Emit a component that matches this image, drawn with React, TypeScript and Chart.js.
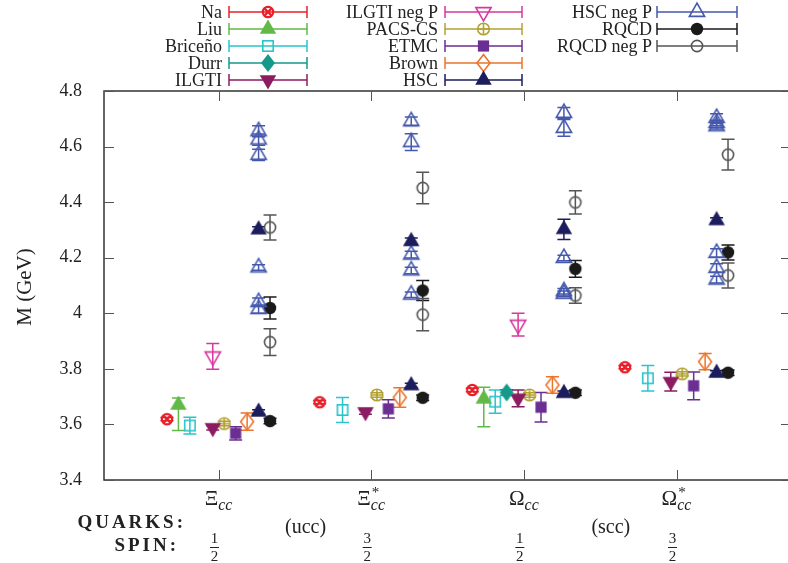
import React, { useEffect, useRef } from "react";
import { Chart, registerables } from "chart.js";

Chart.register(...registerables);

// ---------- data ----------
const categoryBase = ["Ξ", "Ξ", "Ω", "Ω"];
const categorySup = ["", "*", "", "*"];
const categorySub = ["cc", "cc", "cc", "cc"];
const categoryX = [1, 2, 3, 4];
const quarkLabels = ["(ucc)", "(scc)"];
const quarkX = [1.57, 3.57];
const spinNum = ["1", "3", "1", "3"];
const spinDen = ["2", "2", "2", "2"];
const yTicks = [3.4, 3.6, 3.8, 4, 4.2, 4.4, 4.6, 4.8];

// [category, mass (GeV), +err, -err]
const naData = [[1, 3.619, 0.006, 0.006], [2, 3.68, 0.006, 0.006], [3, 3.724, 0.006, 0.006], [4, 3.806, 0.006, 0.006]];
const liuData = [[1, 3.67, 0.025, 0.092], [3, 3.692, 0.042, 0.1]];
const bricenoData = [[1, 3.596, 0.03, 0.03], [2, 3.652, 0.045, 0.045], [3, 3.682, 0.042, 0.042], [4, 3.766, 0.046, 0.046]];
const durrData = [[3, 3.715, 0.01, 0.01]];
const ilgtiData = [[1, 3.588, 0.008, 0.008], [2, 3.645, 0.008, 0.008], [3, 3.694, 0.03, 0.03], [4, 3.754, 0.034, 0.034]];
const ilgtiNegPData = [[1, 3.845, 0.046, 0.046], [3, 3.959, 0.041, 0.041]];
const pacsData = [[1, 3.603, 0.008, 0.008], [2, 3.706, 0.008, 0.008], [3, 3.706, 0.008, 0.008], [4, 3.782, 0.008, 0.008]];
const etmcData = [[1, 3.568, 0.024, 0.024], [2, 3.656, 0.033, 0.033], [3, 3.662, 0.053, 0.053], [4, 3.739, 0.05, 0.05]];
const brownData = [[1, 3.61, 0.031, 0.031], [2, 3.697, 0.035, 0.035], [3, 3.742, 0.03, 0.03], [4, 3.826, 0.029, 0.029]];
const hscData = [[1, 3.645, 0.008, 0.008], [1, 4.301, 0.01, 0.01], [2, 3.74, 0.008, 0.008], [2, 4.259, 0.012, 0.012], [3, 3.712, 0.008, 0.008], [3, 4.302, 0.036, 0.036], [4, 3.785, 0.008, 0.008], [4, 4.334, 0.01, 0.01]];
const hscNegPData = [
  [1, 4.655, 0.02, 0.02], [1, 4.625, 0.02, 0.02], [1, 4.57, 0.02, 0.02], [1, 4.165, 0.01, 0.01], [1, 4.04, 0.015, 0.015], [1, 4.015, 0.015, 0.015],
  [2, 4.691, 0.015, 0.015], [2, 4.616, 0.03, 0.03], [2, 4.211, 0.012, 0.012], [2, 4.154, 0.012, 0.012], [2, 4.067, 0.01, 0.01],
  [3, 4.721, 0.02, 0.02], [3, 4.667, 0.03, 0.03], [3, 4.199, 0.01, 0.01], [3, 4.079, 0.01, 0.01], [3, 4.07, 0.01, 0.01],
  [4, 4.703, 0.015, 0.015], [4, 4.685, 0.01, 0.01], [4, 4.673, 0.01, 0.01], [4, 4.217, 0.015, 0.015], [4, 4.163, 0.015, 0.015], [4, 4.121, 0.012, 0.012],
];
const rqcdData = [[1, 3.612, 0.01, 0.01], [1, 4.019, 0.04, 0.04], [2, 3.696, 0.01, 0.01], [2, 4.082, 0.036, 0.036], [3, 3.714, 0.01, 0.01], [3, 4.16, 0.03, 0.03], [4, 3.786, 0.01, 0.01], [4, 4.219, 0.027, 0.027]];
const rqcdNegPData = [[1, 4.309, 0.045, 0.045], [1, 3.896, 0.048, 0.048], [2, 4.451, 0.057, 0.057], [2, 3.995, 0.058, 0.058], [3, 4.399, 0.042, 0.042], [3, 4.064, 0.028, 0.028], [4, 4.571, 0.055, 0.055], [4, 4.136, 0.045, 0.045]];

type Series = { label: string; color: string; marker: string; offset: number; data: number[][] };

const series: Series[] = [
  { label: "Na", color: "#e8202a", marker: "circleX", offset: -0.3375, data: naData },
  { label: "Liu", color: "#62b946", marker: "triUpFill", offset: -0.2625, data: liuData },
  { label: "Briceño", color: "#29c4cc", marker: "squareOpen", offset: -0.1875, data: bricenoData },
  { label: "Durr", color: "#14998a", marker: "diamondFill", offset: -0.1125, data: durrData },
  { label: "ILGTI", color: "#8b1c62", marker: "triDownFill", offset: -0.0375, data: ilgtiData },
  { label: "ILGTI neg P", color: "#d6389f", marker: "triDownOpen", offset: -0.0375, data: ilgtiNegPData },
  { label: "PACS-CS", color: "#b3a233", marker: "circlePlus", offset: 0.0375, data: pacsData },
  { label: "ETMC", color: "#6b2f93", marker: "squareFill", offset: 0.1125, data: etmcData },
  { label: "Brown", color: "#ec742b", marker: "diamondOpen", offset: 0.1875, data: brownData },
  { label: "HSC", color: "#1b1d5c", marker: "triUpFill", offset: 0.2625, data: hscData },
  { label: "HSC neg P", color: "#4458ad", marker: "triUpOpen", offset: 0.2625, data: hscNegPData },
  { label: "RQCD", color: "#1a1a1a", marker: "circleFill", offset: 0.3375, data: rqcdData },
  { label: "RQCD neg P", color: "#555555", marker: "circleOpen", offset: 0.3375, data: rqcdNegPData },
];

// legend layout (columns of series indices)
const legendColumns = [[0, 1, 2, 3, 4], [5, 6, 7, 8, 9], [10, 11, 12]];
const legendLabelRight = [222, 438, 652];
const legendLineLeft = [229, 445, 657];
const legendLineRight = [307, 522, 737];
const legendRowY = [12, 29, 46, 63, 80];

const SERIF = "'Liberation Serif', 'Times New Roman', serif";

function drawMarker(ctx: CanvasRenderingContext2D, kind: string, x: number, y: number, color: string) {
  ctx.save();
  ctx.strokeStyle = color;
  ctx.fillStyle = color;
  ctx.lineWidth = 1.6;
  ctx.lineJoin = "miter";
  const tri = (R: number, down: boolean) => {
    const s = down ? -1 : 1;
    ctx.beginPath();
    ctx.moveTo(x, y - s * R);
    ctx.lineTo(x - R * 0.866, y + (s * R) / 2);
    ctx.lineTo(x + R * 0.866, y + (s * R) / 2);
    ctx.closePath();
  };
  const diamond = (hw: number, hh: number) => {
    ctx.beginPath();
    ctx.moveTo(x, y - hh);
    ctx.lineTo(x + hw, y);
    ctx.lineTo(x, y + hh);
    ctx.lineTo(x - hw, y);
    ctx.closePath();
  };
  switch (kind) {
    case "circleX": {
      const r = 5.2;
      ctx.lineWidth = 2.2;
      ctx.beginPath();
      ctx.arc(x, y, r, 0, Math.PI * 2);
      ctx.stroke();
      const d = r * 0.7;
      ctx.beginPath();
      ctx.moveTo(x - d, y - d);
      ctx.lineTo(x + d, y + d);
      ctx.moveTo(x + d, y - d);
      ctx.lineTo(x - d, y + d);
      ctx.stroke();
      break;
    }
    case "circlePlus": {
      const r = 5.8;
      ctx.lineWidth = 1.6;
      ctx.beginPath();
      ctx.arc(x, y, r, 0, Math.PI * 2);
      ctx.stroke();
      ctx.beginPath();
      ctx.moveTo(x - r, y);
      ctx.lineTo(x + r, y);
      ctx.moveTo(x, y - r);
      ctx.lineTo(x, y + r);
      ctx.stroke();
      break;
    }
    case "triUpFill":
      tri(9.5, false);
      ctx.fill();
      break;
    case "triUpOpen":
      tri(8.8, false);
      ctx.stroke();
      break;
    case "triDownFill":
      tri(9.5, true);
      ctx.fill();
      break;
    case "triDownOpen":
      tri(8.8, true);
      ctx.stroke();
      break;
    case "squareOpen":
      ctx.strokeRect(x - 5.2, y - 5.2, 10.4, 10.4);
      break;
    case "squareFill":
      ctx.fillRect(x - 5.6, y - 5.6, 11.2, 11.2);
      break;
    case "diamondFill":
      diamond(7, 9);
      ctx.fill();
      break;
    case "diamondOpen":
      diamond(6.5, 8.5);
      ctx.stroke();
      break;
    case "circleFill":
      ctx.beginPath();
      ctx.arc(x, y, 6.2, 0, Math.PI * 2);
      ctx.fill();
      break;
    case "circleOpen":
      ctx.beginPath();
      ctx.arc(x, y, 5.6, 0, Math.PI * 2);
      ctx.stroke();
      break;
  }
  ctx.restore();
}

function makeMarkerImage(kind: string, color: string): HTMLCanvasElement {
  const c = document.createElement("canvas");
  c.width = 26;
  c.height = 26;
  const ctx = c.getContext("2d")!;
  drawMarker(ctx, kind, 13, 13, color);
  return c;
}

const errorBarPlugin = {
  id: "errorBars",
  beforeDatasetsDraw(chart: any) {
    const ctx = chart.ctx as CanvasRenderingContext2D;
    const xs = chart.scales.x;
    const ys = chart.scales.y;
    ctx.save();
    chart.data.datasets.forEach((ds: any) => {
      ctx.strokeStyle = ds.errColor;
      ctx.lineWidth = 1.5;
      ds.data.forEach((p: any) => {
        const px = xs.getPixelForValue(p.x);
        const pt = ys.getPixelForValue(p.hi);
        const pb = ys.getPixelForValue(p.lo);
        const cw = 6.5;
        ctx.beginPath();
        ctx.moveTo(px, pt);
        ctx.lineTo(px, pb);
        ctx.moveTo(px - cw, pt);
        ctx.lineTo(px + cw, pt);
        ctx.moveTo(px - cw, pb);
        ctx.lineTo(px + cw, pb);
        ctx.stroke();
      });
    });
    ctx.restore();
  },
};

const decorPlugin = {
  id: "decor",
  afterDraw(chart: any) {
    const ctx = chart.ctx as CanvasRenderingContext2D;
    const { left, right, top, bottom } = chart.chartArea;
    const xs = chart.scales.x;
    const ys = chart.scales.y;
    ctx.save();
    // frame
    ctx.strokeStyle = "#333333";
    ctx.lineWidth = 1.5;
    ctx.strokeRect(left, top, right - left, bottom - top);
    // inward ticks
    ctx.strokeStyle = "#555555";
    ctx.lineWidth = 1;
    ctx.beginPath();
    yTicks.forEach((v) => {
      const py = Math.round(ys.getPixelForValue(v)) + 0.5;
      ctx.moveTo(left, py);
      ctx.lineTo(left + 10, py);
      ctx.moveTo(right, py);
      ctx.lineTo(right - 10, py);
    });
    categoryX.forEach((c) => {
      const px = Math.round(xs.getPixelForValue(c)) + 0.5;
      ctx.moveTo(px, bottom);
      ctx.lineTo(px, bottom - 10);
      ctx.moveTo(px, top);
      ctx.lineTo(px, top + 10);
    });
    ctx.stroke();

    ctx.fillStyle = "#222222";
    // y title
    ctx.save();
    ctx.translate(31, 287);
    ctx.rotate(-Math.PI / 2);
    ctx.font = `21px ${SERIF}`;
    ctx.textAlign = "center";
    ctx.textBaseline = "alphabetic";
    ctx.fillText("M (GeV)", 0, 0);
    ctx.restore();

    // category labels
    categoryX.forEach((c, i) => {
      const cx = xs.getPixelForValue(c);
      ctx.font = `21px ${SERIF}`;
      const wb = ctx.measureText(categoryBase[i]).width;
      ctx.font = `italic 16px ${SERIF}`;
      const wsub = ctx.measureText(categorySub[i]).width;
      const total = wb + wsub;
      const x0 = cx - total / 2;
      ctx.textAlign = "left";
      ctx.font = `21px ${SERIF}`;
      ctx.fillText(categoryBase[i], x0, 505);
      ctx.font = `italic 16px ${SERIF}`;
      ctx.fillText(categorySub[i], x0 + wb, 510);
      if (categorySup[i]) {
        ctx.font = `15px ${SERIF}`;
        ctx.fillText(categorySup[i], x0 + wb + 1, 497);
      }
    });

    // QUARKS / SPIN rows
    ctx.font = `bold 19px ${SERIF}`;
    (ctx as any).letterSpacing = "3px";
    ctx.textAlign = "right";
    ctx.fillText("QUARKS:", 186, 528);
    ctx.fillText("SPIN:", 179, 551);
    (ctx as any).letterSpacing = "0px";
    ctx.font = `20px ${SERIF}`;
    ctx.textAlign = "center";
    quarkLabels.forEach((q, i) => {
      ctx.fillText(q, xs.getPixelForValue(quarkX[i]), 533);
    });
    ctx.font = `15px ${SERIF}`;
    categoryX.forEach((c, i) => {
      const fx = xs.getPixelForValue(c) - 4;
      ctx.fillText(spinNum[i], fx, 543);
      ctx.fillText(spinDen[i], fx, 561);
      ctx.fillRect(fx - 4.5, 547, 9, 1);
    });

    // legend
    ctx.font = `18px ${SERIF}`;
    ctx.textAlign = "right";
    ctx.textBaseline = "middle";
    legendColumns.forEach((col, ci) => {
      col.forEach((si, ri) => {
        const s = series[si];
        const y = legendRowY[ri];
        ctx.fillStyle = "#222222";
        ctx.fillText(s.label, legendLabelRight[ci], y + 1);
        const l = legendLineLeft[ci];
        const r = legendLineRight[ci];
        ctx.strokeStyle = s.color;
        ctx.lineWidth = 1.5;
        ctx.beginPath();
        ctx.moveTo(l, y);
        ctx.lineTo(r, y);
        ctx.moveTo(l, y - 6);
        ctx.lineTo(l, y + 6);
        ctx.moveTo(r, y - 6);
        ctx.lineTo(r, y + 6);
        ctx.stroke();
        drawMarker(ctx, s.marker, (l + r) / 2, y, s.color);
      });
    });
    ctx.restore();
  },
};

export default function App() {
  const ref = useRef<HTMLCanvasElement | null>(null);
  useEffect(() => {
    document.body.style.margin = "0";
    const canvas = ref.current!;
    const datasets = series.map((s) => ({
      label: s.label,
      data: s.data.map(([c, v, ep, em]) => ({ x: c + s.offset, y: v, hi: v + ep, lo: v - em })),
      pointStyle: makeMarkerImage(s.marker, s.color),
      pointRadius: 8,
      showLine: false,
      errColor: s.color,
    }));
    const chart = new Chart(canvas, {
      type: "scatter",
      data: { datasets: datasets as any },
      options: {
        animation: false,
        responsive: false,
        devicePixelRatio: 1,
        layout: { padding: { top: 91, right: 8, left: 0, bottom: 0 } },
        plugins: { legend: { display: false }, tooltip: { enabled: false } },
        scales: {
          x: {
            type: "linear",
            min: 0.25,
            max: 4.75,
            grid: { display: false, drawTicks: false },
            border: { display: false },
            ticks: { display: false },
            afterFit: (s: any) => {
              s.height = 83;
            },
          },
          y: {
            min: 3.4,
            max: 4.8,
            afterBuildTicks: (s: any) => {
              s.ticks = yTicks.map((v) => ({ value: v }));
            },
            grid: { display: false, drawTicks: false },
            border: { display: false },
            ticks: {
              padding: 22,
              color: "#222222",
              font: { family: SERIF, size: 18 },
              callback: (v: any) => String(Number(Number(v).toFixed(1))),
            },
            afterFit: (s: any) => {
              s.width = 104;
            },
          },
        },
      } as any,
      plugins: [errorBarPlugin, decorPlugin],
    });
    return () => chart.destroy();
  }, []);
  return (
    <div style={{ position: "fixed", left: 0, top: 0, width: 788, height: 563, overflow: "hidden", background: "#fff" }}>
      <canvas ref={ref} width={800} height={563} style={{ width: 800, height: 563, display: "block" }} />
    </div>
  );
}
